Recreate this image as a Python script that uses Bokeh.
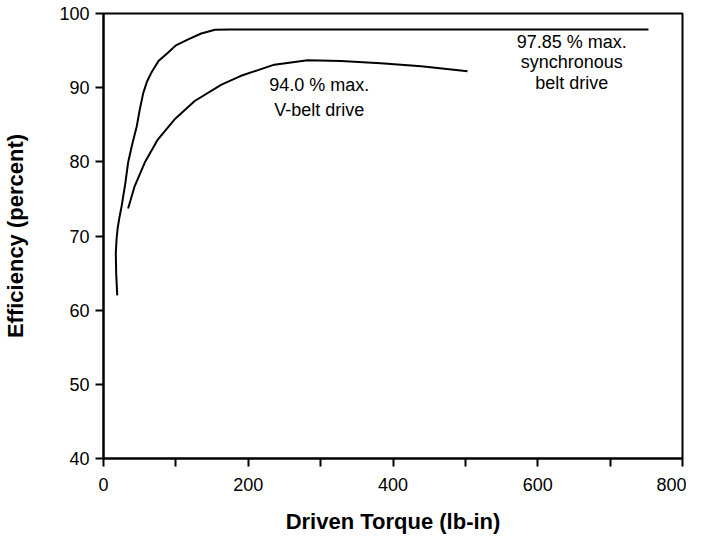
from bokeh.plotting import figure
from bokeh.models import Range1d, FixedTicker
from bokeh.core.properties import value
from bokeh.embed import file_html
from bokeh.resources import INLINE

# Synchronous belt drive curve
sync_x = [19, 17.5, 17, 18, 19.5, 22, 25, 30, 34, 40, 46, 50, 55, 60, 66, 76, 89, 100, 117, 135, 154, 175, 250, 400, 600, 753]
sync_y = [62.0, 65.0, 67.7, 69.5, 71.0, 72.5, 74.0, 77.0, 79.9, 82.5, 84.8, 87.0, 89.3, 90.8, 92.0, 93.6, 94.7, 95.7, 96.5, 97.3, 97.8, 97.85, 97.85, 97.85, 97.85, 97.85]

# V-belt drive curve
vb_x = [34, 43, 57, 75, 98, 126, 163, 190, 236, 282, 328, 383, 439, 503]
vb_y = [73.7, 76.7, 79.9, 83.0, 85.7, 88.2, 90.4, 91.6, 93.1, 93.7, 93.6, 93.3, 92.9, 92.2]

x_ticks = [0, 200, 400, 600, 800]
x_minor = [100, 300, 500, 700]
y_ticks = [40, 50, 60, 70, 80, 90, 100]

ann_text = ["94.0 % max.", "V-belt drive", "97.85 % max.", "synchronous", "belt drive"]
ann_x = [298, 298, 647, 647, 647]
ann_y = [90.3, 87.0, 96.2, 93.4, 90.6]

FONT = "Liberation Sans"

p = figure(width=686, height=540, output_backend="svg", toolbar_location=None,
           x_range=Range1d(0, 800), y_range=Range1d(40, 100),
           min_border_left=99, min_border_right=4, min_border_top=13, min_border_bottom=82)

p.line(sync_x, sync_y, line_color="black", line_width=2)
p.line(vb_x, vb_y, line_color="black", line_width=2)
p.text(ann_x, ann_y, text=ann_text, text_font=value(FONT), text_font_size="18px",
       text_align="center", text_baseline="middle", text_color="black")

p.xgrid.visible = False
p.ygrid.visible = False
p.outline_line_color = "black"
p.outline_line_width = 2
p.background_fill_color = "white"
p.border_fill_color = "white"

p.xaxis.ticker = FixedTicker(ticks=x_ticks, minor_ticks=x_minor)
p.yaxis.ticker = FixedTicker(ticks=y_ticks)
for ax in (p.xaxis[0], p.yaxis[0]):
    ax.axis_line_color = "black"
    ax.axis_line_width = 2
    ax.major_tick_line_color = "black"
    ax.major_tick_line_width = 2
    ax.major_tick_out = 8
    ax.major_tick_in = 0
    ax.minor_tick_line_color = "black"
    ax.minor_tick_line_width = 2
    ax.minor_tick_out = 8
    ax.minor_tick_in = 0
    ax.major_label_text_font = FONT
    ax.major_label_text_font_size = "18px"
    ax.major_label_text_color = "black"
    ax.axis_label_text_font = FONT
    ax.axis_label_text_font_style = "bold"
    ax.axis_label_text_font_size = "22px"
    ax.axis_label_text_color = "black"

p.yaxis.minor_tick_line_color = None
p.xaxis.axis_label = "Driven Torque (lb-in)"
p.yaxis.axis_label = "Efficiency (percent)"
p.xaxis.major_label_standoff = 11
p.yaxis.major_label_standoff = 6
p.xaxis.axis_label_standoff = 15
p.yaxis.axis_label_standoff = 28

open("out.html", "w").write(file_html(p, INLINE))
